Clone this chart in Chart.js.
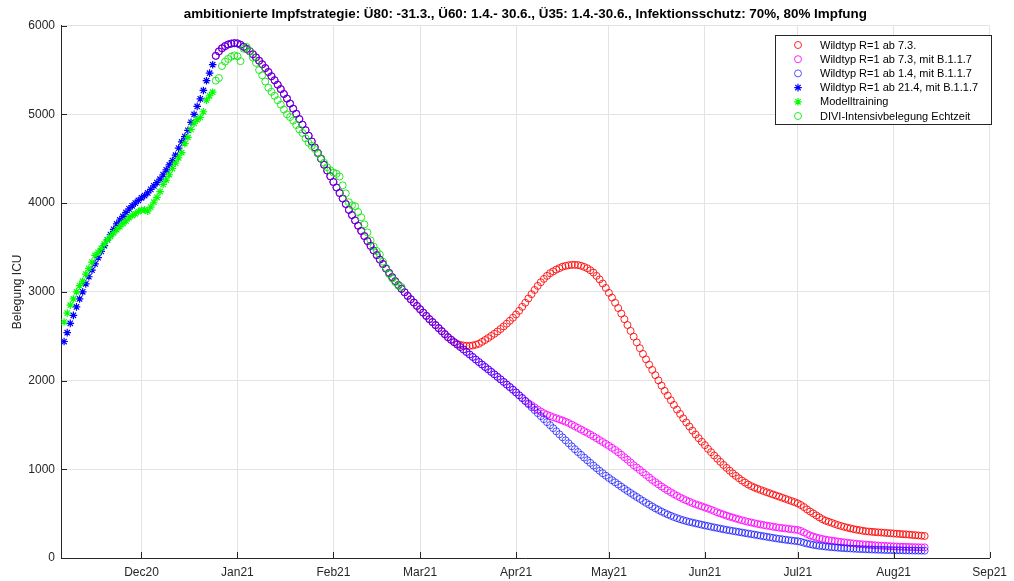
<!DOCTYPE html>
<html>
<head>
<meta charset="utf-8">
<script src="https://cdn.jsdelivr.net/npm/chart.js@4/dist/chart.umd.min.js"></script>
<style>
html,body{margin:0;padding:0;background:#fff;}
#wrap{position:relative;width:1014px;height:581px;}
</style>
</head>
<body>
<div id="wrap"><canvas id="c" width="1014" height="581"></canvas></div>
<script>
// ---------- axis / ticks ----------
const axisStartDate = '2020-11-05';
const axisEndDate = '2021-09-01';
const monthTickDates = ['2020-12-01','2021-01-01','2021-02-01','2021-03-01','2021-04-01','2021-05-01','2021-06-01','2021-07-01','2021-08-01','2021-09-01'];
const monthTickLabels = ['Dec20','Jan21','Feb21','Mar21','Apr21','May21','Jun21','Jul21','Aug21','Sep21'];
const yTickValues = [0,1000,2000,3000,4000,5000,6000];

const titleText = 'ambitionierte Impfstrategie: Ü80: -31.3., Ü60: 1.4.- 30.6., Ü35: 1.4.-30.6., Infektionsschutz: 70%, 80% Impfung';
const yAxisTitle = 'Belegung ICU';
const seriesLabels = [
  'Wildtyp R=1 ab 7.3.',
  'Wildtyp R=1 ab 7.3, mit B.1.1.7',
  'Wildtyp R=1 ab 1.4, mit B.1.1.7',
  'Wildtyp R=1 ab 21.4, mit B.1.1.7',
  'Modelltraining',
  'DIVI-Intensivbelegung Echtzeit'
];

// ---------- data (daily values) ----------
// stars: 2020-11-06 .. 2020-12-24
const starStart = '2020-11-06';
const fitStarVals = [
  2440,2540,2645,2735,2830,2920,3000,3090,3170,3245,
  3315,3385,3455,3520,3585,3645,3705,3765,3810,3850,
  3895,3935,3970,4000,4030,4060,4085,4115,4155,4195,
  4230,4270,4320,4375,4430,4480,4540,4620,4690,4750,
  4820,4910,5000,5090,5175,5270,5380,5465,5560
];
const trainingStarVals = [
  2660,2760,2850,2920,3000,3070,3120,3200,3265,3335,
  3410,3445,3490,3540,3585,3625,3665,3700,3735,3770,
  3800,3835,3860,3880,3905,3920,3925,3910,3955,4010,
  4065,4130,4210,4260,4320,4390,4450,4510,4570,4670,
  4740,4830,4900,4940,4965,5030,5160,5210,5250
];

// model projections, common part: 2020-12-25 .. 2021-03-10
const modelStart = '2020-12-25';
const sharedModelVals = [
  5660,5710,5745,5770,5788,5798,5803,5800,5785,5762,
  5738,5712,5678,5642,5605,5565,5522,5478,5430,5385,
  5335,5285,5230,5178,5122,5065,5007,4947,4885,4822,
  4760,4695,4628,4565,4500,4432,4367,4302,4238,4176,
  4114,4052,3990,3924,3865,3805,3745,3686,3628,3572,
  3518,3466,3414,3363,3313,3262,3213,3166,3120,3076,
  3034,2995,2954,2916,2879,2841,2804,2766,2729,2692,
  2659,2625,2591,2557,2523,2489
];
// common to the two B.1.1.7 variants: 2021-03-11 .. 2021-04-04
const b117SharedStart = '2021-03-11';
const b117SharedVals = [
  2461,2433,2405,2378,2350,2322,2294,2266,2237,2209,
  2181,2153,2126,2098,2070,2042,2014,1985,1955,1927,
  1897,1866,1834,1803,1770
];
// red: 2021-03-11 .. 2021-08-11
const redStart = '2021-03-11';
const redTailVals = [
  2458,2432,2414,2402,2395,2391,2391,2395,2404,2415,
  2436,2457,2479,2503,2527,2553,2581,2610,2641,2674,
  2708,2745,2786,2831,2877,2925,2974,3021,3067,3108,
  3146,3180,3210,3231,3251,3267,3283,3293,3300,3304,
  3304,3302,3294,3281,3266,3243,3217,3180,3140,3094,
  3044,2989,2935,2877,2817,2755,2692,2626,2560,2494,
  2430,2365,2300,2239,2179,2120,2061,2002,1943,1884,
  1831,1778,1726,1673,1624,1574,1528,1482,1436,1392,
  1350,1310,1272,1230,1193,1156,1119,1084,1049,1016,
  985,954,926,899,873,850,828,810,794,780,
  767,754,741,729,716,704,692,679,667,654,
  642,630,616,597,574,548,524,502,480,458,
  437,420,408,396,383,371,361,351,342,334,
  326,319,313,307,301,298,295,292,289,287,
  284,281,279,276,273,271,268,266,263,260,
  257,254,251,248
];
// magenta and blue tails: 2021-04-05 .. 2021-08-11
const tailStart = '2021-04-05';
const magentaTailVals = [
  1745,1722,1698,1673,1651,1632,1615,1601,1587,1575,
  1563,1550,1536,1521,1503,1485,1466,1448,1429,1411,
  1391,1371,1350,1329,1307,1286,1264,1242,1218,1192,
  1164,1136,1108,1077,1046,1020,992,964,936,908,
  880,855,830,806,783,762,740,720,701,683,
  665,650,634,619,606,594,582,569,557,544,
  530,515,502,490,477,466,456,445,435,425,
  416,407,400,392,384,378,371,365,359,353,
  347,341,337,333,328,324,320,316,305,288,
  270,254,242,231,222,214,207,201,196,191,
  186,181,176,172,168,164,160,157,154,151,
  148,146,143,141,139,137,135,133,131,129,
  128,126,125,124,123,122,121,120,120
];
const blueTailVals = [
  1735,1700,1667,1633,1599,1565,1531,1497,1463,1428,
  1394,1360,1326,1293,1259,1226,1194,1163,1132,1102,
  1072,1042,1012,983,955,928,902,877,853,828,
  804,780,756,733,710,688,666,644,622,601,
  580,560,542,524,507,491,476,462,449,437,
  426,416,407,399,391,383,375,367,360,352,
  345,338,331,324,317,311,305,299,293,287,
  281,275,269,263,257,251,245,239,233,227,
  221,216,211,206,201,197,193,189,182,172,
  163,155,148,142,137,133,129,125,122,119,
  116,113,111,109,107,105,103,101,100,98,
  97,95,94,93,92,91,90,89,88,87,
  87,86,85,85,84,84,83,83,82
];
// DIVI real-time occupancy: 2020-12-25 .. 2021-02-23
const diviStart = '2020-12-25';
const diviVals = [
  5380,5410,5545,5595,5625,5650,5665,5655,5600,5740,
  5760,5710,5640,5580,5500,5440,5370,5300,5255,5210,
  5160,5110,5055,5000,4970,4930,4880,4830,4790,4730,
  4680,4645,4610,4560,4505,4455,4405,4370,4345,4330,
  4300,4200,4110,4010,3975,3965,3900,3840,3760,3670,
  3580,3510,3460,3420,3340,3270,3200,3150,3110,3070,
  3055
];

// ---------- helpers ----------
const DAY = 864e5;
const t0 = Date.parse(axisStartDate + 'T00:00:00Z');
const dayIdx = s => Math.round((Date.parse(s + 'T00:00:00Z') - t0) / DAY);
const pts = (start, vals) => vals.map((v, i) => ({x: dayIdx(start) + i, y: v}));
const tickIdx = monthTickDates.map(dayIdx);

const FONT = '"Liberation Sans", Arial, Helvetica, sans-serif';
Chart.defaults.font.family = FONT;
Chart.defaults.color = '#262626';

const circleDs = (label, data, color, order) => ({
  label, data, order,
  pointStyle: 'circle', pointRadius: 3.5, pointBorderWidth: 0.85,
  pointBorderColor: color, pointBackgroundColor: 'rgba(0,0,0,0)',
  borderColor: color, backgroundColor: 'rgba(0,0,0,0)', showLine: false
});
const starDs = (label, data, color, order) => ({
  label, data, order,
  pointStyle: 'star', pointRadius: 3.8, pointBorderWidth: 1.2,
  pointBorderColor: color, pointBackgroundColor: color,
  borderColor: color, backgroundColor: color, showLine: false
});

const datasets = [
  circleDs(seriesLabels[0], pts(modelStart, sharedModelVals).concat(pts(redStart, redTailVals)), '#ff0000', 6),
  circleDs(seriesLabels[1], pts(modelStart, sharedModelVals).concat(pts(b117SharedStart, b117SharedVals), pts(tailStart, magentaTailVals)), '#ff00ff', 5),
  circleDs(seriesLabels[2], pts(modelStart, sharedModelVals).concat(pts(b117SharedStart, b117SharedVals), pts(tailStart, blueTailVals)), 'rgba(0,0,255,0.78)', 4),
  starDs(seriesLabels[3], pts(starStart, fitStarVals), '#0000ff', 3),
  starDs(seriesLabels[4], pts(starStart, trainingStarVals), '#00ff00', 2),
  circleDs(seriesLabels[5], pts(diviStart, diviVals), '#00e600', 1)
];

// inward tick marks (MATLAB style)
const inwardTicks = {
  id: 'inwardTicks',
  afterDatasetsDraw(chart) {
    const {ctx, chartArea: a, scales: {x, y}} = chart;
    ctx.save();
    ctx.strokeStyle = '#262626';
    ctx.lineWidth = 1;
    ctx.beginPath();
    x.ticks.forEach(t => {
      const px = Math.round(x.getPixelForValue(t.value)) + 0.5;
      ctx.moveTo(px, a.bottom); ctx.lineTo(px, a.bottom - 6);
    });
    y.ticks.forEach(t => {
      const py = Math.round(y.getPixelForValue(t.value)) + 0.5;
      ctx.moveTo(a.left, py); ctx.lineTo(a.left + 6, py);
    });
    ctx.stroke();
    ctx.restore();
  }
};

// legend box in the upper right corner of the plot area
const boxLegend = {
  id: 'boxLegend',
  afterDraw(chart) {
    const {ctx} = chart;
    const bx = 775.5, by = 35.5, bw = 216, bh = 89, rowH = 14.2;
    ctx.save();
    ctx.fillStyle = '#fff';
    ctx.fillRect(bx, by, bw, bh);
    ctx.strokeStyle = '#262626';
    ctx.lineWidth = 1;
    ctx.strokeRect(bx, by, bw, bh);
    ctx.font = '11px ' + FONT;
    ctx.textBaseline = 'middle';
    ctx.fillStyle = '#000';
    chart.data.datasets.forEach((ds, i) => {
      const cy = by + 9.5 + i * rowH;
      ctx.save();
      ctx.strokeStyle = ds.pointBorderColor;
      ctx.fillStyle = ds.pointBackgroundColor;
      ctx.lineWidth = ds.pointBorderWidth;
      Chart.helpers.drawPoint(ctx, {pointStyle: ds.pointStyle, radius: ds.pointRadius, borderWidth: ds.pointBorderWidth, rotation: 0}, 798, cy);
      ctx.restore();
      ctx.fillText(ds.label, 820, cy + 0.5);
    });
    ctx.restore();
  }
};

const whiteBg = {
  id: 'whiteBg',
  beforeDraw(chart) {
    const {ctx, width, height} = chart;
    ctx.save(); ctx.fillStyle = '#fff'; ctx.fillRect(0, 0, width, height); ctx.restore();
  }
};

new Chart(document.getElementById('c'), {
  type: 'scatter',
  data: {datasets},
  plugins: [whiteBg, inwardTicks, boxLegend],
  options: {
    responsive: false,
    animation: false,
    events: [],
    layout: {padding: {left: 0, right: 20, top: 0, bottom: 0}},
    plugins: {
      legend: {display: false},
      tooltip: {enabled: false},
      title: {
        display: true, text: titleText, color: '#000', fullSize: false,
        font: {family: FONT, size: 13.4, weight: 'bold'},
        padding: {top: 6, bottom: 3.6}
      }
    },
    scales: {
      x: {
        type: 'linear', min: 0, max: dayIdx(axisEndDate),
        afterBuildTicks(scale) { scale.ticks = tickIdx.map(v => ({value: v})); },
        afterFit(scale) { scale.height = 23; },
        ticks: {
          autoSkip: false, maxRotation: 0, padding: 7, color: '#262626',
          font: {size: 12},
          callback: v => monthTickLabels[tickIdx.indexOf(v)]
        },
        grid: {color: '#e3e3e3', lineWidth: 1, drawTicks: false},
        border: {display: true, color: '#262626', width: 1}
      },
      y: {
        min: 0, max: 6000,
        afterBuildTicks(scale) { scale.ticks = yTickValues.map(v => ({value: v})); },
        afterFit(scale) { scale.width = 61; },
        ticks: {padding: 6, color: '#262626', font: {size: 12}, callback: v => String(v)},
        grid: {color: '#e3e3e3', lineWidth: 1, drawTicks: false},
        border: {display: true, color: '#262626', width: 1},
        title: {display: true, text: yAxisTitle, color: '#262626', font: {size: 12}, padding: {top: 10, bottom: 0}}
      }
    }
  }
});
</script>
</body>
</html>
